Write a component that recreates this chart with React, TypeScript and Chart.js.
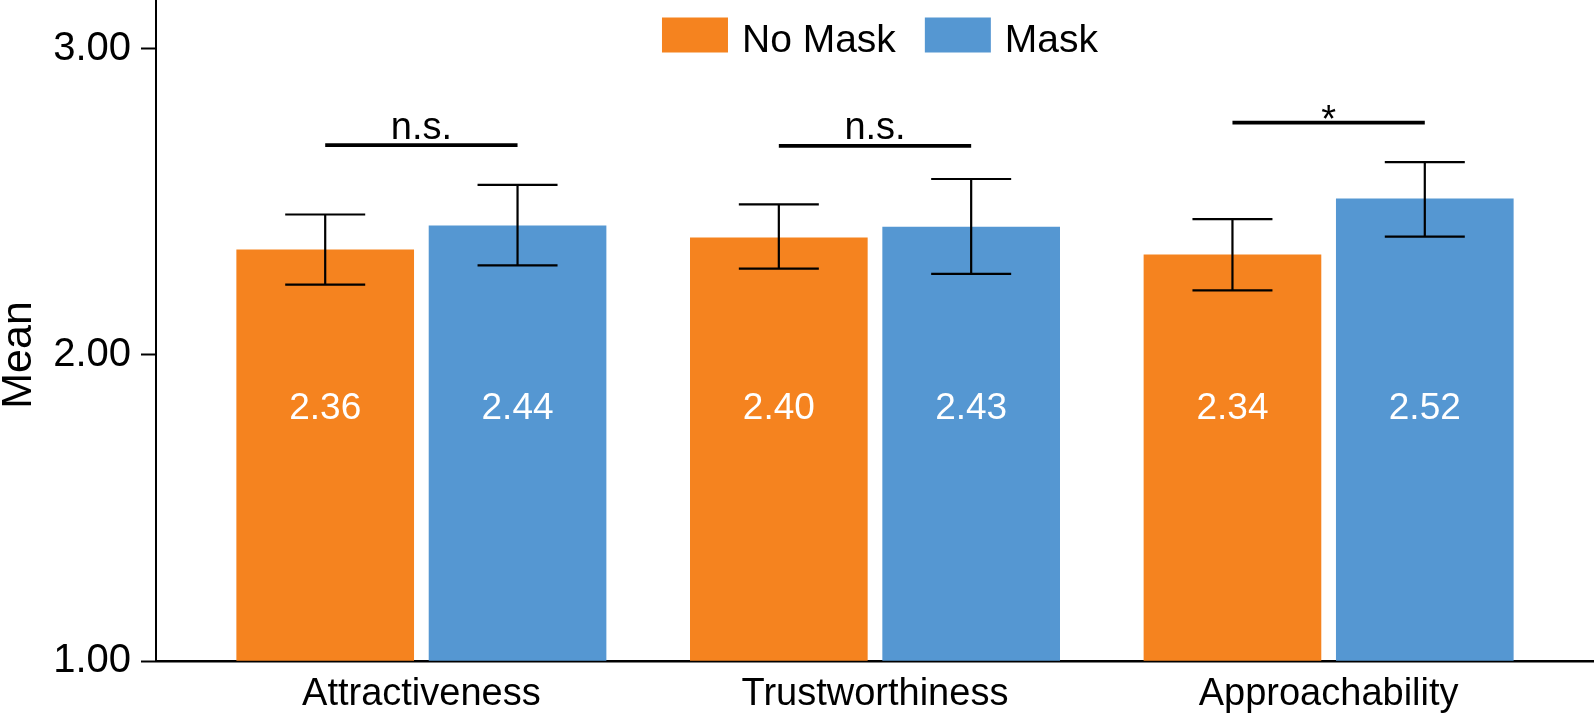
import React, { useEffect, useRef } from 'react';
import { Chart, registerables } from 'chart.js';

Chart.register(...registerables);

// ---- data ----
const categories = ['Attractiveness', 'Trustworthiness', 'Approachability'];
const seriesNames = ['No Mask', 'Mask'];
const noMaskMeans = [2.344, 2.383, 2.327];
const maskMeans = [2.422, 2.418, 2.51];
const noMaskValueLabels = ['2.36', '2.40', '2.34'];
const maskValueLabels = ['2.44', '2.43', '2.52'];
const noMaskErrLow = [2.23, 2.282, 2.211];
const noMaskErrHigh = [2.459, 2.492, 2.444];
const maskErrLow = [2.293, 2.265, 2.387];
const maskErrHigh = [2.556, 2.575, 2.63];
const sigLevels = [2.686, 2.683, 2.759];
const sigLabels = ['n.s.', 'n.s.', '*'];
const yTickValues = [1, 2, 3];
const yTitle = 'Mean';

// ---- styles ----
const FONT = "'Liberation Sans', Arial, Helvetica, sans-serif";
const COLORS = ['#F5831F', '#5597D2'];
const GROUP_OFFSETS = [-0.212, 0.212];
const Y_MIN = 1;
const Y_MAX = 3.16;
const VALUE_LABEL_LEVEL = 1.79;

const overlayPlugin = {
  id: 'overlay',
  afterDatasetsDraw(chart: any) {
    const ctx = chart.ctx as CanvasRenderingContext2D;
    const yS = chart.scales.y;
    const metas = [chart.getDatasetMeta(0), chart.getDatasetMeta(1)];
    const lows = [noMaskErrLow, maskErrLow];
    const highs = [noMaskErrHigh, maskErrHigh];
    const labels = [noMaskValueLabels, maskValueLabels];
    ctx.save();
    // value labels
    ctx.fillStyle = '#fff';
    ctx.font = `37px ${FONT}`;
    ctx.textAlign = 'center';
    ctx.textBaseline = 'alphabetic';
    metas.forEach((m: any, d: number) =>
      m.data.forEach((bar: any, i: number) => {
        ctx.fillText(labels[d][i], bar.x, yS.getPixelForValue(VALUE_LABEL_LEVEL));
      })
    );
    // error bars
    ctx.strokeStyle = '#000';
    ctx.lineWidth = 2.2;
    metas.forEach((m: any, d: number) =>
      m.data.forEach((bar: any, i: number) => {
        const x = bar.x;
        const half = bar.width * 0.226;
        const yl = yS.getPixelForValue(lows[d][i]);
        const yh = yS.getPixelForValue(highs[d][i]);
        ctx.beginPath();
        ctx.moveTo(x, yl);
        ctx.lineTo(x, yh);
        ctx.moveTo(x - half, yh);
        ctx.lineTo(x + half, yh);
        ctx.moveTo(x - half, yl);
        ctx.lineTo(x + half, yl);
        ctx.stroke();
      })
    );
    // significance bars
    ctx.lineWidth = 3.8;
    ctx.fillStyle = '#000';
    ctx.font = `38px ${FONT}`;
    categories.forEach((_, i) => {
      const x1 = metas[0].data[i].x;
      const x2 = metas[1].data[i].x;
      const y = yS.getPixelForValue(sigLevels[i]);
      ctx.beginPath();
      ctx.moveTo(x1, y);
      ctx.lineTo(x2, y);
      ctx.stroke();
      const m = ctx.measureText(sigLabels[i]);
      const desc = m.actualBoundingBoxDescent || 0;
      const gap = desc < -1 ? 4 : 6.5;
      ctx.fillText(sigLabels[i], (x1 + x2) / 2, y - gap - desc);
    });
    ctx.restore();
  },
  afterDraw(chart: any) {
    const ctx = chart.ctx as CanvasRenderingContext2D;
    const area = chart.chartArea;
    const yS = chart.scales.y;
    ctx.save();
    // y-axis title
    const midVal = (yTickValues[0] + yTickValues[yTickValues.length - 1]) / 2;
    ctx.translate(31, yS.getPixelForValue(midVal));
    ctx.rotate(-Math.PI / 2);
    ctx.font = `43px ${FONT}`;
    ctx.fillStyle = '#000';
    ctx.textAlign = 'center';
    ctx.textBaseline = 'alphabetic';
    ctx.fillText(yTitle, 0, 0);
    ctx.restore();

    // legend
    ctx.save();
    ctx.font = `39px ${FONT}`;
    ctx.textAlign = 'left';
    ctx.textBaseline = 'alphabetic';
    const boxW = 66;
    const boxH = 35;
    const boxTop = 17.5;
    const textGap = 14;
    const itemGap = 29;
    const ds = chart.data.datasets;
    const widths = ds.map((d: any) => ctx.measureText(d.label).width);
    const total = ds.reduce((s: number, _: any, i: number) => s + boxW + textGap + widths[i], 0) + itemGap * (ds.length - 1);
    let x = (area.left + area.right) / 2 - total / 2 + 5;
    ds.forEach((d: any, i: number) => {
      ctx.fillStyle = d.backgroundColor;
      ctx.fillRect(x, boxTop, boxW, boxH);
      x += boxW + textGap;
      ctx.fillStyle = '#000';
      ctx.fillText(d.label, x, 52);
      x += widths[i] + itemGap;
    });
    ctx.restore();
  },
};

export default function App() {
  const ref = useRef<HTMLCanvasElement>(null);
  useEffect(() => {
    document.body.style.margin = '0';
    document.body.style.overflow = 'hidden';
    document.documentElement.style.overflow = 'hidden';
    const canvas = ref.current;
    if (!canvas) return;
    const means = [noMaskMeans, maskMeans];
    const chart = new Chart(canvas, {
      type: 'bar',
      data: {
        datasets: seriesNames.map((name, d) => ({
          label: name,
          data: means[d].map((v, i) => ({ x: i + GROUP_OFFSETS[d], y: v })),
          backgroundColor: COLORS[d],
          borderWidth: 0,
          barThickness: 177,
          maxBarThickness: 177,
          grouped: false,
          base: Y_MIN,
        })),
      },
      options: {
        animation: false,
        responsive: true,
        maintainAspectRatio: false,
        events: [],
        layout: { padding: 0 },
        plugins: {
          legend: { display: false },
          tooltip: { enabled: false },
          title: { display: false },
        },
        scales: {
          x: {
            type: 'linear',
            offset: false,
            min: -0.585,
            max: 2.585,
            grid: { display: false, drawTicks: false, offset: false },
            border: { display: true, color: '#000', width: 2.5 },
            afterBuildTicks: (s: any) => {
              s.ticks = categories.map((_, i) => ({ value: i }));
            },
            afterFit: (s: any) => {
              s.height = 57;
              s.paddingLeft = 0;
              s.paddingRight = 0;
            },
            ticks: {
              callback: (v: any) => categories[Math.round(Number(v))] ?? '',
              font: { size: 38, family: FONT },
              color: '#000',
              padding: 11,
              autoSkip: false,
              maxRotation: 0,
              minRotation: 0,
            },
          },
          y: {
            type: 'linear',
            min: Y_MIN,
            max: Y_MAX,
            afterBuildTicks: (s: any) => {
              s.ticks = yTickValues.map((v) => ({ value: v }));
            },
            afterFit: (s: any) => {
              s.width = 156;
              s.paddingTop = 0;
              s.paddingBottom = 0;
            },
            grid: {
              display: true,
              drawOnChartArea: false,
              drawTicks: true,
              tickLength: 15,
              tickWidth: 2,
              tickColor: '#000',
            },
            border: { display: true, color: '#000', width: 2 },
            ticks: {
              callback: (v: any) => Number(v).toFixed(2),
              font: { size: 40, family: FONT },
              color: '#000',
              padding: 10,
            },
          },
        },
      } as any,
      plugins: [overlayPlugin],
    });
    return () => chart.destroy();
  }, []);
  return (
    <div style={{ position: 'relative', width: '1594px', height: '718px' }}>
      <canvas ref={ref} />
    </div>
  );
}
